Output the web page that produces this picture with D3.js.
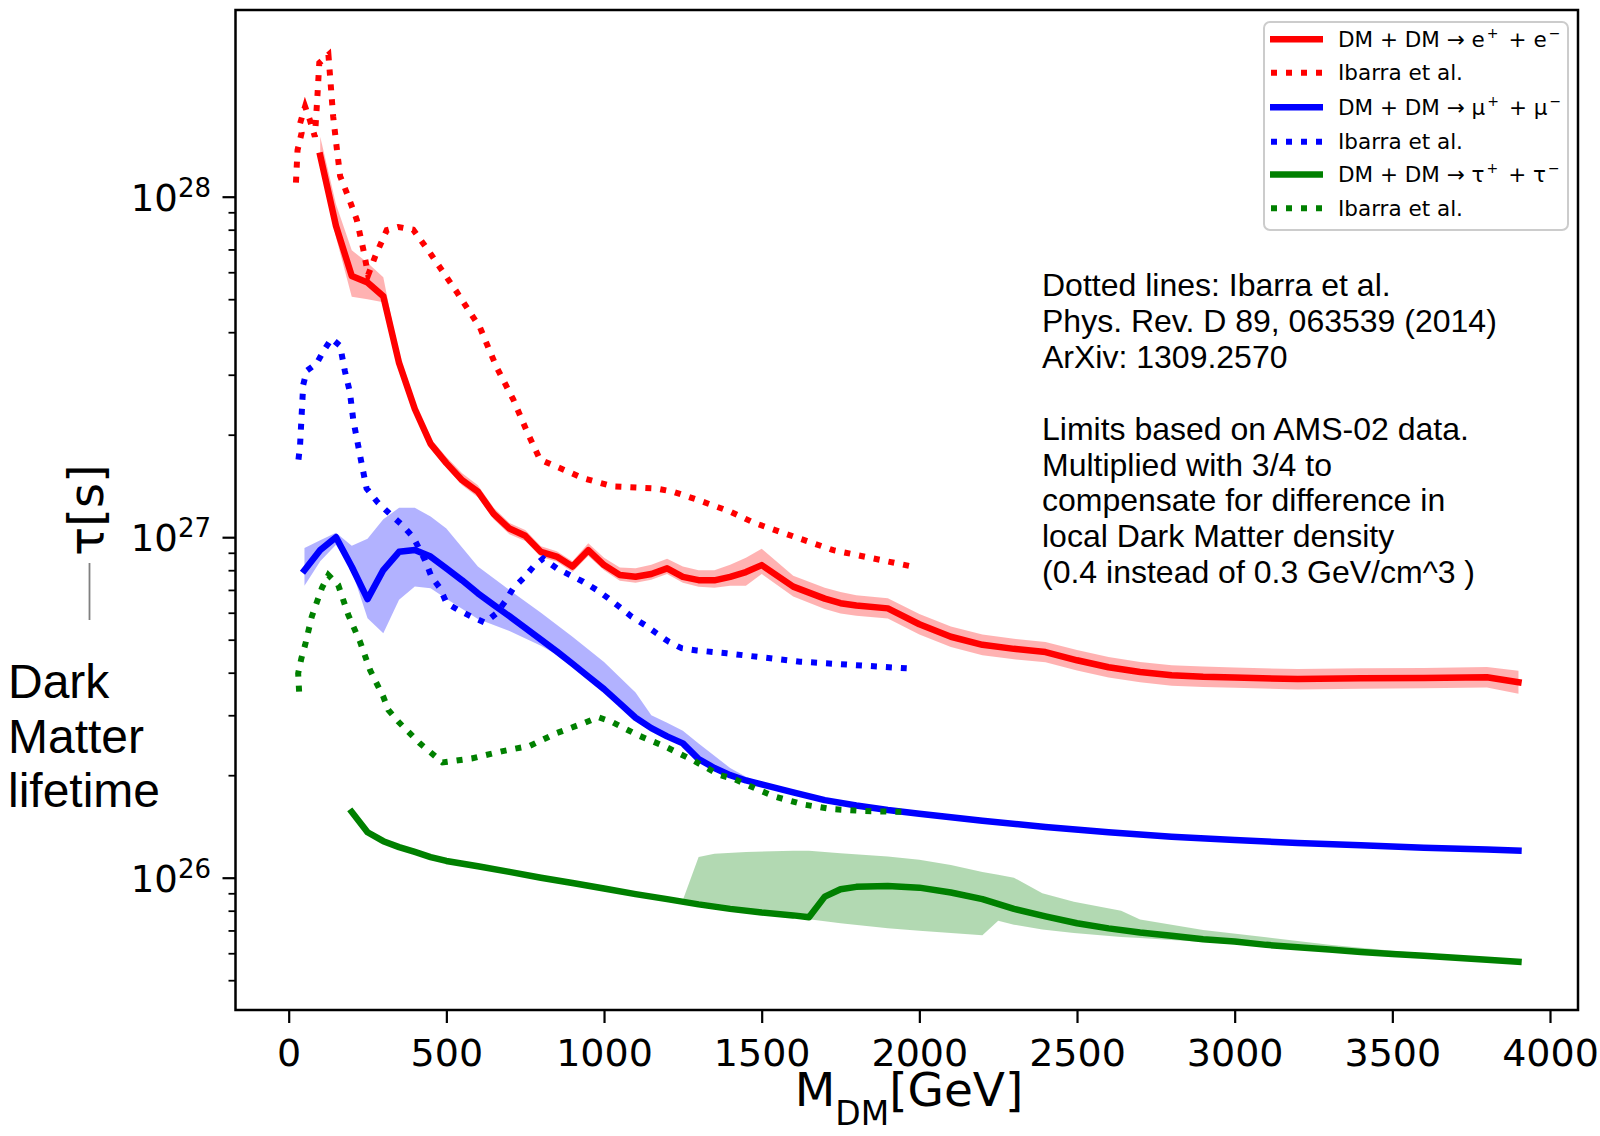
<!DOCTYPE html>
<html><head><meta charset="utf-8">
<script src="https://cdn.jsdelivr.net/npm/d3@7"></script>
<style>body{margin:0;background:#fff;} svg{display:block;}</style>
</head><body>
<svg id="c" width="1600" height="1136"></svg>
<script>
// ---------------- DATA (lifetimes in units of 1e27 s) ----------------
const UNIT = 1e27;
const xTicks = [0, 500, 1000, 1500, 2000, 2500, 3000, 3500, 4000];
const yMajor = [1e26, 1e27, 1e28];
const yMajorExp = ["26", "27", "28"];

// e+ e- channel (solid red) and its band
const eeX   = [100,150,200,250,300,350,400,450,500,550,600,650,700,750,800,850,900,950,1000,1050,1100,1150,1200,1250,1300,1350,1400,1450,1500,1600,1700,1750,1800,1900,2000,2100,2200,2300,2400,2500,2600,2700,2800,2900,3000,3200,3400,3600,3800,3900];
const eeVal = [13.2,8.2,5.85,5.6,5.1,3.25,2.38,1.88,1.65,1.47,1.36,1.17,1.06,1.01,0.905,0.877,0.82,0.916,0.828,0.774,0.765,0.78,0.81,0.765,0.748,0.747,0.765,0.79,0.828,0.716,0.66,0.64,0.63,0.618,0.555,0.51,0.483,0.47,0.46,0.435,0.415,0.402,0.393,0.389,0.387,0.383,0.385,0.386,0.388,0.375];
const eeHi  = [15.0,9.5,6.96,6.4,5.8,3.4,2.47,1.95,1.72,1.54,1.42,1.22,1.1,1.05,0.94,0.91,0.85,0.96,0.87,0.815,0.81,0.83,0.865,0.82,0.8,0.8,0.83,0.87,0.925,0.77,0.71,0.69,0.675,0.662,0.595,0.547,0.518,0.503,0.492,0.466,0.445,0.43,0.421,0.417,0.414,0.41,0.412,0.413,0.416,0.405];
const eeLo  = [12.6,7.6,5.08,5.0,4.9,3.12,2.3,1.82,1.6,1.42,1.31,1.13,1.02,0.975,0.875,0.848,0.79,0.88,0.8,0.745,0.735,0.75,0.78,0.735,0.715,0.71,0.72,0.72,0.78,0.67,0.615,0.597,0.588,0.577,0.518,0.476,0.45,0.438,0.429,0.406,0.387,0.375,0.366,0.363,0.361,0.357,0.359,0.36,0.362,0.347];

// mu+ mu- channel (solid blue) and its band
const muX   = [50,100,150,200,250,300,350,400,450,500,550,600,650,700,750,800,850,900,950,1000,1050,1100,1150,1200,1250,1300,1350,1400,1450,1500,1600,1700,1800,1900,2000,2200,2400,2600,2800,3000,3200,3400,3600,3800,3900];
const muVal = [0.80,0.917,1.0,0.819,0.658,0.801,0.906,0.917,0.877,0.81,0.747,0.684,0.633,0.586,0.542,0.50,0.462,0.425,0.39,0.358,0.325,0.295,0.275,0.26,0.248,0.223,0.21,0.2,0.193,0.188,0.178,0.169,0.163,0.158,0.154,0.147,0.141,0.136,0.132,0.129,0.1265,0.1245,0.1225,0.121,0.12];
const muBandX = [50,100,150,200,250,300,350,400,450,500,600,700,800,900,1000,1100,1150,1200,1250,1300,1350,1400,1450,1500];
const muHi    = [0.93,0.98,1.03,0.944,0.99,1.13,1.22,1.22,1.15,1.06,0.82,0.70,0.60,0.51,0.43,0.35,0.30,0.285,0.27,0.248,0.228,0.21,0.198,0.19];
const muLo    = [0.72,0.85,0.95,0.80,0.578,0.522,0.655,0.716,0.708,0.66,0.575,0.53,0.48,0.425,0.355,0.292,0.272,0.257,0.245,0.22,0.207,0.198,0.191,0.186];

// tau+ tau- channel (solid green) and its band
const tauX   = [200,250,300,350,400,450,500,600,700,800,900,1000,1100,1200,1300,1400,1500,1600,1650,1700,1750,1800,1900,2000,2100,2200,2300,2400,2500,2600,2700,2800,2900,3000,3100,3200,3300,3400,3500,3600,3700,3800,3900];
const tauVal = [0.156,0.136,0.128,0.123,0.119,0.115,0.112,0.108,0.104,0.100,0.0965,0.093,0.0895,0.0865,0.0835,0.081,0.079,0.0775,0.0765,0.088,0.0925,0.094,0.0945,0.0935,0.0905,0.0865,0.081,0.077,0.0735,0.071,0.069,0.0675,0.066,0.065,0.0635,0.0625,0.0615,0.0605,0.0597,0.059,0.0582,0.0574,0.0566];
const tauBandX = [1250,1300,1350,1450,1600,1650,1750,1900,2000,2100,2200,2250,2300,2390,2490,2640,2700,2900,3100,3300,3500,3700,3900];
const tauHi    = [0.086,0.115,0.1175,0.119,0.12,0.12,0.118,0.1155,0.113,0.109,0.104,0.102,0.1,0.09,0.085,0.08,0.0754,0.0702,0.0668,0.0635,0.061,0.0588,0.0572];
const tauLo    = [0.0855,0.0833,0.0822,0.080,0.0775,0.0755,0.0735,0.071,0.0698,0.0688,0.0678,0.0748,0.0728,0.0705,0.0688,0.067,0.0665,0.0647,0.0628,0.0608,0.059,0.0575,0.056];

// Ibarra et al. (dotted)
const ibEEx = [23,28,41,36,52,67,83,91,97,126,133,141,152,163,189,216,237,252,274,311,348,395,448,533,607,659,712,755,797,850,934,1029,1167,1219,1294,1399,1478,1727,1986];
const ibEEy = [11.0,13.7,15.4,16.4,18.4,16.8,15.0,19.7,24.7,26.1,21.5,17.2,14.0,11.5,10.0,8.55,6.97,5.89,6.67,7.98,8.15,8.0,6.84,5.25,4.12,3.16,2.54,2.05,1.69,1.61,1.49,1.41,1.39,1.36,1.29,1.19,1.10,0.916,0.817];
const ibMUx = [31,36,41,46,57,89,110,136,163,178,194,205,216,231,247,284,321,358,395,432,453,480,501,538,580,622,659,686,712,744,776,807,850,892,934,977,1013,1050,1088,1130,1167,1204,1246,1294,1389,1621,1960];
const ibMUy = [1.69,1.86,2.28,2.8,3.08,3.24,3.52,3.83,3.65,3.08,2.67,2.2,1.95,1.65,1.39,1.26,1.17,1.09,1.0,0.857,0.765,0.708,0.64,0.611,0.584,0.561,0.598,0.647,0.708,0.757,0.819,0.866,0.81,0.774,0.74,0.70,0.662,0.623,0.584,0.552,0.522,0.494,0.472,0.465,0.456,0.431,0.412];
const ibTAx = [33,30,40,52,73,105,126,157,189,226,258,300,316,348,416,488,580,675,765,850,939,982,1024,1108,1193,1283,1368,1412,1497,1542,1633,1723,1819,1961];
const ibTAy = [0.352,0.398,0.44,0.482,0.584,0.708,0.774,0.724,0.591,0.494,0.407,0.34,0.311,0.287,0.248,0.218,0.224,0.235,0.244,0.266,0.285,0.296,0.287,0.262,0.243,0.221,0.20,0.195,0.18,0.173,0.164,0.159,0.157,0.156];

const legendItems = [
  {parts:["DM + DM \u2192 e","+","+ e","\u2212"], color:"#ff0000", dotted:false},
  {parts:["Ibarra et al."], color:"#ff0000", dotted:true},
  {parts:["DM + DM \u2192 \u03bc","+","+ \u03bc","\u2212"], color:"#0000ff", dotted:false},
  {parts:["Ibarra et al."], color:"#0000ff", dotted:true},
  {parts:["DM + DM \u2192 \u03c4","+","+ \u03c4","\u2212"], color:"#008000", dotted:false},
  {parts:["Ibarra et al."], color:"#008000", dotted:true}
];
const noteLines = ["Dotted lines: Ibarra et al.","Phys. Rev. D 89, 063539 (2014)","ArXiv: 1309.2570","",
  "Limits based on AMS-02 data.","Multiplied with 3/4 to","compensate for difference in","local Dark Matter density","(0.4 instead of 0.3 GeV/cm^3 )"];
const sideLabel = ["Dark","Matter","lifetime"];

// ---------------- LAYOUT ----------------
const AX = {left:235.5, right:1578, top:10, bottom:1010};
const x = d3.scaleLinear().domain([0,4000]).range([288.7,1550]);
const y = d3.scaleLog().domain([1e26,1e28]).range([877.7,196.7]);
const FT = "'DejaVu Sans', sans-serif";
const FA = "'Liberation Sans', Arial, sans-serif";

const svg = d3.select("#c");
svg.append("rect").attr("width",1600).attr("height",1136).attr("fill","#fff");
svg.append("defs").append("clipPath").attr("id","clip").append("rect")
  .attr("x",AX.left).attr("y",AX.top).attr("width",AX.right-AX.left).attr("height",AX.bottom-AX.top);
const plot = svg.append("g").attr("clip-path","url(#clip)");

const zip = (xs, ys) => xs.map((v,i)=>[v, ys[i]]);
const zip3 = (xs, lo, hi) => xs.map((v,i)=>[v, lo[i], hi[i]]);
const line = d3.line().x(d=>x(d[0])).y(d=>y(d[1]*UNIT));
const area = d3.area().x(d=>x(d[0])).y0(d=>y(d[1]*UNIT)).y1(d=>y(d[2]*UNIT));

function band(xs, lo, hi, col){
  plot.append("path").attr("d", area(zip3(xs,lo,hi))).attr("fill",col).attr("fill-opacity",0.3).attr("stroke","none");
}
function solid(xs, ys, col){
  plot.append("path").attr("d", line(zip(xs,ys))).attr("fill","none").attr("stroke",col)
    .attr("stroke-width",6.5).attr("stroke-linejoin","round").attr("stroke-linecap","square");
}
function dotted(xs, ys, col){
  plot.append("path").attr("d", line(zip(xs,ys))).attr("fill","none").attr("stroke",col)
    .attr("stroke-width",6).attr("stroke-dasharray","6,9").attr("stroke-linecap","butt");
}

band(eeX, eeLo, eeHi, "#ff0000");
solid(eeX, eeVal, "#ff0000");
dotted(ibEEx, ibEEy, "#ff0000");
band(muBandX, muLo, muHi, "#0000ff");
solid(muX, muVal, "#0000ff");
dotted(ibMUx, ibMUy, "#0000ff");
band(tauBandX, tauLo, tauHi, "#008000");
solid(tauX, tauVal, "#008000");
dotted(ibTAx, ibTAy, "#008000");

// ---------------- AXES ----------------
const xAxis = svg.append("g").attr("transform",`translate(0,${AX.bottom})`)
  .call(d3.axisBottom(x).tickValues(xTicks).tickSize(13).tickFormat(d3.format("d")));
xAxis.select(".domain").remove();
xAxis.selectAll(".tick line").attr("stroke","#000").attr("stroke-width",2.2);
xAxis.selectAll(".tick text").attr("y",56).attr("dy",null).attr("fill","#000")
  .style("font-family",FT).style("font-size","38px");

const yMinor = [];
[25,26,27].forEach(e=>{ for(let k=2;k<=9;k++){ const v=k*Math.pow(10,e); if(y(v)>=AX.top && y(v)<=AX.bottom) yMinor.push(v);} });
const yAxMin = svg.append("g").attr("transform",`translate(${AX.left},0)`)
  .call(d3.axisLeft(y).tickValues(yMinor).tickSize(7).tickFormat(""));
yAxMin.select(".domain").remove();
yAxMin.selectAll(".tick line").attr("stroke","#000").attr("stroke-width",1.8);
const yAxMaj = svg.append("g").attr("transform",`translate(${AX.left},0)`)
  .call(d3.axisLeft(y).tickValues(yMajor).tickSize(13).tickFormat(""));
yAxMaj.select(".domain").remove();
yAxMaj.selectAll(".tick line").attr("stroke","#000").attr("stroke-width",2.2);
yMajor.forEach((v,i)=>{
  const t = svg.append("text").attr("x",211).attr("y",y(v)+14).attr("text-anchor","end")
    .style("font-family",FT).attr("fill","#000");
  t.append("tspan").attr("font-size",37).text("10");
  t.append("tspan").attr("font-size",26).attr("dy",-14).text(yMajorExp[i]);
});

// frame
svg.append("rect").attr("x",AX.left).attr("y",AX.top).attr("width",AX.right-AX.left)
  .attr("height",AX.bottom-AX.top).attr("fill","none").attr("stroke","#000").attr("stroke-width",2.5);

// x label
const xl = svg.append("text").attr("x",909).attr("y",1106).attr("text-anchor","middle")
  .style("font-family",FT).attr("fill","#000").attr("font-size",47);
xl.append("tspan").text("M");
xl.append("tspan").attr("font-size",33).attr("dy",19).text("DM");
xl.append("tspan").attr("dy",-19).text("[GeV]");

// y label (rotated) + grey dash
svg.append("text").attr("transform","translate(103,510) rotate(-90)").attr("text-anchor","middle")
  .style("font-family",FT).attr("font-size",48).attr("fill","#000").text("\u03c4[s]");
svg.append("line").attr("x1",89.5).attr("x2",89.5).attr("y1",563).attr("y2",620)
  .attr("stroke","#808080").attr("stroke-width",1.8);

// side label
sideLabel.forEach((s,i)=>{
  svg.append("text").attr("x",8).attr("y",698+i*54.5).style("font-family",FA)
    .attr("font-size",48).attr("fill","#000").text(s);
});

// note text
noteLines.forEach((s,i)=>{
  if(!s) return;
  svg.append("text").attr("x",1042).attr("y",296+i*35.9).style("font-family",FA)
    .attr("font-size",32).attr("fill","#000").text(s);
});

// ---------------- LEGEND ----------------
const lg = svg.append("g");
lg.append("rect").attr("x",1264).attr("y",22).attr("width",304).attr("height",208).attr("rx",6)
  .attr("fill","#fff").attr("stroke","#cccccc").attr("stroke-width",2);
const rowY = [39.3, 72.7, 107.3, 141.7, 174.5, 208.3];
legendItems.forEach((it,i)=>{
  const yy = rowY[i];
  const l = lg.append("line").attr("x1",1270).attr("x2",1323).attr("y1",yy).attr("y2",yy)
    .attr("stroke",it.color).attr("stroke-width",it.dotted?6:6.5);
  if(it.dotted) l.attr("stroke-dasharray","6,9").attr("x1",1271);
  const t = lg.append("text").attr("x",1338).attr("y",yy+7.5).style("font-family",FT)
    .attr("font-size",21.5).attr("fill","#000");
  if(it.parts.length===1){ t.text(it.parts[0]); }
  else {
    t.append("tspan").text(it.parts[0]);
    t.append("tspan").attr("font-size",14).attr("dx",2).attr("dy",-9).text(it.parts[1]);
    t.append("tspan").attr("dx",10).attr("dy",9).text(it.parts[2]);
    t.append("tspan").attr("font-size",14).attr("dx",2).attr("dy",-9).text(it.parts[3]);
  }
});
</script>
</body></html>
